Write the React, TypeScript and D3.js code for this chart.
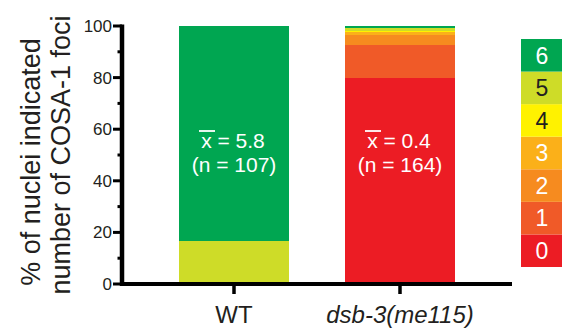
import React from "react";
import * as d3 from "d3";

// genotypes on the x axis
const genotypes = ["WT", "dsb-3(me115)"];
// percent of nuclei with 0..6 COSA-1 foci, per genotype
const wtPct = [0, 0, 0, 0, 0, 16.8, 83.2];
const dsbPct = [79.9, 12.8, 3.7, 1.2, 0.6, 1.2, 0.6];
const means = ["5.8", "0.4"];
const counts = [107, 164];
const fociCats = ["0", "1", "2", "3", "4", "5", "6"];
const yTicks = [0, 20, 40, 60, 80, 100];
const yMinor = [10, 30, 50, 70, 90];

const colors = ["#ec1c24", "#f05a28", "#f68b1f", "#fbb019", "#fff200", "#cedc28", "#00a651"];
const legendText = ["#fff", "#fff", "#fff", "#fff", "#231f20", "#231f20", "#fff"];

const FONT = "'Liberation Sans', Arial, Helvetica, sans-serif";

export default function App() {
  const width = 562,
    height = 334;
  const axisX = 122,
    axisY = 284;

  const y = d3.scaleLinear().domain([0, 100]).range([axisY, 26]);
  const x = d3.scaleBand().domain(genotypes).range([179, 455]).paddingInner(56 / 166).paddingOuter(0);

  const stacks = [wtPct, dsbPct].map((vals) => {
    let acc = 0;
    return vals.map((v) => {
      const s = [acc, acc + v];
      acc += v;
      return s;
    });
  });

  const legend = d3.scaleBand().domain(fociCats.slice().reverse()).range([39, 267]);
  const cx = (g: string) => (x(g) as number) + x.bandwidth() / 2;

  return (
    <svg width={width} height={height} style={{ position: "absolute", left: 0, top: 0, fontFamily: FONT }}>
      {/* bars */}
      {genotypes.map((g, gi) => (
        <g key={g}>
          {stacks[gi].map(([a, b], k) =>
            b - a > 0 ? (
              <rect
                key={k}
                x={x(g)}
                width={x.bandwidth()}
                y={y(b)}
                height={y(a) - y(b)}
                fill={colors[k]}
                shapeRendering="crispEdges"
              />
            ) : null
          )}
          <g fill="#fff" fontSize={21} textAnchor="middle">
            <text x={cx(g) - 1} y={148}>
              x = {means[gi]}
            </text>
            <line x1={cx(g) - 35} x2={cx(g) - 19} y1={131} y2={131} stroke="#fff" strokeWidth={1.8} />
            <text x={cx(g)} y={172}>
              (n = {counts[gi]})
            </text>
          </g>
        </g>
      ))}

      {/* y axis */}
      <line x1={axisX} x2={axisX} y1={24.5} y2={axisY + 2} stroke="#000" strokeWidth={4.5} />
      {yTicks.map((t) => (
        <g key={t}>
          <line x1={axisX - 9} x2={axisX} y1={y(t)} y2={y(t)} stroke="#000" strokeWidth={3} />
          <text x={axisX - 10} y={y(t)} dy="0.35em" textAnchor="end" fontSize={17} fill="#231f20">
            {t}
          </text>
        </g>
      ))}
      {yMinor.map((t) => (
        <line key={t} x1={axisX - 4.5} x2={axisX} y1={y(t)} y2={y(t)} stroke="#000" strokeWidth={3} />
      ))}

      {/* x axis */}
      <line x1={axisX - 2} x2={512} y1={axisY} y2={axisY} stroke="#000" strokeWidth={4} />
      {genotypes.map((g) => (
        <line key={g} x1={cx(g)} x2={cx(g)} y1={axisY} y2={axisY + 10} stroke="#000" strokeWidth={3.5} />
      ))}
      {genotypes.map((g, gi) => (
        <text
          key={g}
          x={cx(g)}
          y={323}
          textAnchor="middle"
          fontSize={24}
          fill="#231f20"
          fontStyle={gi === 1 ? "italic" : "normal"}
        >
          {g}
        </text>
      ))}

      {/* y label */}
      <text transform="translate(40,162) rotate(-90)" textAnchor="middle" fontSize={27} fill="#231f20">
        % of nuclei indicated
      </text>
      <text transform="translate(70,155) rotate(-90)" textAnchor="middle" fontSize={27} fill="#231f20">
        number of COSA-1 foci
      </text>

      {/* legend */}
      {fociCats.map((c, k) => (
        <g key={c}>
          <rect x={521} y={legend(c)} width={41} height={legend.bandwidth()} fill={colors[k]} />
          <text
            x={542}
            y={(legend(c) as number) + legend.bandwidth() / 2}
            dy="0.36em"
            textAnchor="middle"
            fontSize={23}
            fill={legendText[k]}
          >
            {c}
          </text>
        </g>
      ))}
    </svg>
  );
}
